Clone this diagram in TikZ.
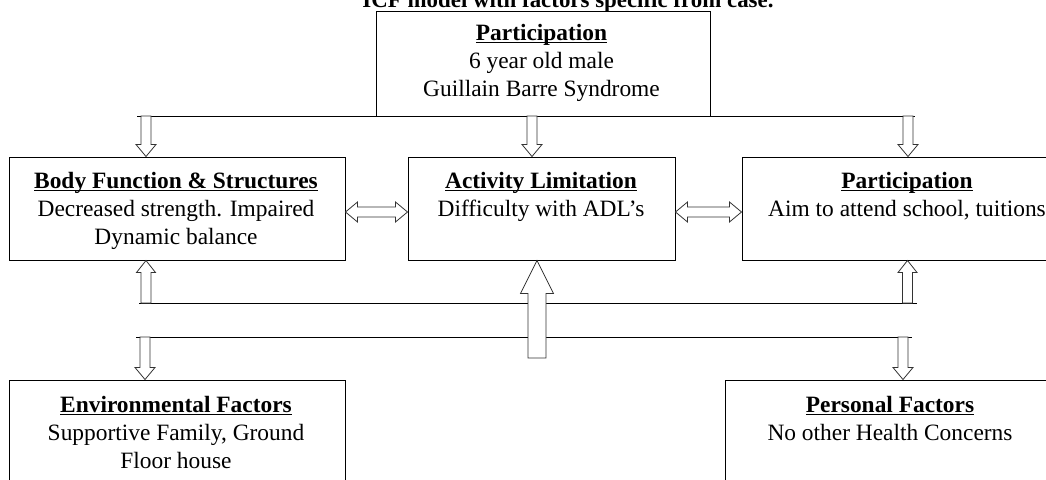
\documentclass[tikz,border=0pt]{standalone}
\usepackage{fontspec}
\setmainfont{Liberation Serif}
\usetikzlibrary{calc}
\newcommand\myul[1]{\setbox0\hbox{#1}\rlap{\rule[-3.2pt]{\wd0}{1.1pt}}\box0}
% down arrow: tail, tip, shaft half width, head half width, head length
\newcommand\darr[5]{\draw[blk] ($#1+(-#3,0)$) -- ($#2+(-#3,-#5)$) -- ($#2+(-#4,-#5)$) -- #2 -- ($#2+(#4,-#5)$) -- ($#2+(#3,-#5)$) -- ($#1+(#3,0)$) -- cycle;}
% up arrow
\newcommand\uarr[5]{\draw[blk] ($#1+(-#3,0)$) -- ($#2+(-#3,#5)$) -- ($#2+(-#4,#5)$) -- #2 -- ($#2+(#4,#5)$) -- ($#2+(#3,#5)$) -- ($#1+(#3,0)$) -- cycle;}
% horizontal double arrow: left tip, right tip, shaft half, head half, head length
\newcommand\harr[5]{\draw[blk] #1 -- ($#1+(#5,-#4)$) -- ($#1+(#5,-#3)$) -- ($#2+(-#5,-#3)$) -- ($#2+(-#5,-#4)$) -- #2 -- ($#2+(-#5,#4)$) -- ($#2+(-#5,#3)$) -- ($#1+(#5,#3)$) -- ($#1+(#5,#4)$) -- cycle;}
\begin{document}
\begin{tikzpicture}[x=1pt,y=-1pt,
  box/.style={draw=black, line width=1pt, fill=white, inner sep=0pt},
  txt/.style={align=center, inner sep=0pt, font=\fontsize{23.4}{28.2}\selectfont},
  bus/.style={draw=black, line width=1pt},
  blk/.style={draw=black!80, line width=0.8pt, fill=white, line join=miter}]
\useasboundingbox (0,0) rectangle (1046,479);
\clip (0,0) rectangle (1046,479);

% title
\node[txt, anchor=base, font=\fontsize{22.9}{28}\selectfont] (title) at (568,8) {\textbf{ICF model with factors specific from case.}};

% boxes
\node[box, minimum width=334pt, minimum height=105pt] (pp) at (543,63.5) {};
\node[box, minimum width=336pt, minimum height=103pt] (bf) at (177,208.5) {};
\node[box, minimum width=267pt, minimum height=103pt] (al) at (541.5,208.5) {};
\node[box, minimum width=332pt, minimum height=103pt] (pr) at (908,208.5) {};
\node[box, minimum width=336pt, minimum height=150pt] (env) at (177,455) {};
\node[box, minimum width=330pt, minimum height=150pt] (pf) at (890,455) {};

% texts (anchor=base is the baseline of the last line)
\node[txt, anchor=base] (ppt) at (541.5,96.4) {\textbf{\myul{Participation}}\\6 year old male\\Guillain Barre Syndrome};
\node[txt, anchor=base] (bft) at (176,244.4) {\textbf{\myul{Body Function \& Structures}}\\Decreased strength. Impaired\\Dynamic balance};
\node[txt, anchor=base] (alt) at (541,216.2) {\textbf{\myul{Activity Limitation}}\\Difficulty with ADL’s};
\node[txt, anchor=base] (prt) at (907,216.2) {\textbf{\myul{Participation}}\\Aim to attend school, tuitions};
\node[txt, anchor=base] (envt) at (176,468.4) {\textbf{\myul{Environmental Factors}}\\Supportive Family, Ground\\Floor house};
\node[txt, anchor=base] (pft) at (890,440.2) {\textbf{\myul{Personal Factors}}\\No other Health Concerns};

% bus lines
\coordinate (b1w) at (137,116); \coordinate (b1e) at (915,116);
\coordinate (b2w) at (139,303); \coordinate (b2e) at (917,303);
\coordinate (b3w) at (136,337); \coordinate (b3e) at (912,337);
\draw[bus] (b1w) -- (b1e);
\draw[bus] (b2w) -- (b2e);
\draw[bus] (b3w) -- (b3e);

% arrow tails on the buses
\coordinate (d1) at (146,116);
\coordinate (d2) at (532,116);
\coordinate (d3) at (908,116);
\coordinate (u1) at (146,303);
\coordinate (u2) at (907.5,303);
\coordinate (big) at (537,358);
\coordinate (e1) at (145,337);
\coordinate (e2) at (903,337);

% top down arrows
\darr{(d1)}{(d1 |- bf.north)}{5}{10}{12}
\darr{(d2)}{(d2 |- al.north)}{5}{10}{12}
\darr{(d3)}{(d3 |- pr.north)}{5}{10}{12}

% horizontal double arrows
\harr{(bf.east |- 0,212)}{(al.west |- 0,212)}{5}{10}{12}
\harr{(al.east |- 0,212)}{(pr.west |- 0,212)}{5}{10}{12}

% up arrows from middle bus
\uarr{(u1)}{(u1 |- bf.south)}{5}{9.5}{12}
\uarr{(u2)}{(u2 |- pr.south)}{5}{9.5}{12}

% big up arrow
\uarr{(big)}{(big |- al.south)}{9}{16.5}{33}

% lower down arrows
\darr{(e1)}{(e1 |- env.north)}{5}{10}{12}
\darr{(e2)}{(e2 |- pf.north)}{5}{10}{12}
\end{tikzpicture}
\end{document}
